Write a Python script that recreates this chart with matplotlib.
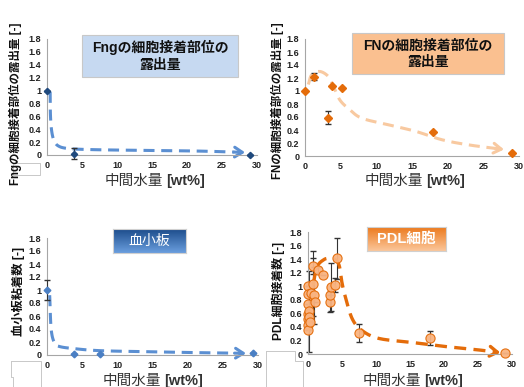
import numpy as np
import matplotlib
matplotlib.use("Agg")
import matplotlib.pyplot as plt
from matplotlib.patches import Rectangle
from matplotlib.lines import Line2D

plt.rcParams['font.family'] = ['Liberation Sans', 'Noto Sans CJK JP', 'DejaVu Sans']

W, H = 524, 387

# ---------------- data ----------------
xticks = [0, 5, 10, 15, 20, 25, 30]
yticks = [0, 0.2, 0.4, 0.6, 0.8, 1, 1.2, 1.4, 1.6, 1.8]
ytick_labels = ['0', '0.2', '0.4', '0.6', '0.8', '1', '1.2', '1.4', '1.6', '1.8']

fng_x = [0, 3.8, 29.0]
fng_y = [1.0, 0.02, 0.0]
fng_err = [0.0, 0.085, 0.0]
fng_guide_x = [0.45, 0.5, 0.7, 1.1, 1.8, 3.0, 4.5, 8, 15, 22, 28.3]
fng_guide_y = [0.98, 0.6, 0.35, 0.2, 0.13, 0.1, 0.09, 0.08, 0.07, 0.06, 0.04]

fn_x = [0, 1.27, 3.2, 3.75, 5.25, 17.95, 29.0]
fn_y = [1.0, 1.22, 0.59, 1.08, 1.04, 0.375, 0.05]
fn_err = [0, 0.05, 0.1, 0, 0, 0, 0]
fn_guide_x = [0.47, 0.94, 2.1, 3.3, 4.0, 4.9, 6.3, 8.0, 11.7, 15.5, 19.2, 23.0, 27.9]
fn_guide_y = [1.10, 1.25, 1.30, 1.22, 1.07, 0.86, 0.71, 0.58, 0.48, 0.38, 0.25, 0.17, 0.10]

plt_x = [0, 3.8, 7.5, 29.3]
plt_y = [1.0, 0.015, 0.01, 0.03]
plt_err = [0.16, 0, 0, 0]
plt_guide_x = [0.38, 0.6, 1.1, 1.8, 3.7, 7.5, 14.6, 21.7, 28.3]
plt_guide_y = [0.92, 0.39, 0.18, 0.13, 0.1, 0.067, 0.05, 0.036, 0.026]

pdl_x = [0, 0, 0, 0, 0, 0, 0, 0.1, 0.2, 0.3, 0.5, 0.7, 0.8, 0.9, 1.0, 1.4, 2.2,
         3.2, 3.3, 3.4, 3.9, 4.3, 7.5, 17.9, 29.0]
pdl_y = [1.0, 0.88, 0.74, 0.59, 0.51, 0.43, 0.35, 0.63, 0.55, 0.47, 0.90, 1.30, 1.04,
         0.87, 0.77, 1.24, 1.16, 0.77, 0.87, 0.99, 1.02, 1.41, 0.31, 0.24, 0.01]
pdl_err = [0, 0, 0, 0, 0, 0, 0, 0.6, 0, 0, 0, 0.12, 0.48, 0.42, 0, 0.05, 0,
           0.15, 0, 0.36, 0.1, 0.3, 0.13, 0.1, 0]
pdl_guide_x = [0.4, 0.6, 0.9, 1.4, 2.3, 3.0, 4.0, 4.6, 5.0, 5.5, 6.5, 7.9, 10.4, 15.3, 20.2, 25.1, 28.3]
pdl_guide_y = [0.45, 0.8, 1.1, 1.3, 1.39, 1.41, 1.39, 1.3, 1.05, 0.84, 0.52, 0.35, 0.23, 0.17, 0.11, 0.06, 0.02]

xlabel_jp = '中間水量'
xlabel_unit = '[wt%]'
ylabels = ['Fngの細胞接着部位の露出量 [-]', 'FNの細胞接着部位の露出量 [-]',
           '血小板粘着数 [-]', 'PDL細胞接着数 [-]']
titles = ['Fngの細胞接着部位の\n露出量', 'FNの細胞接着部位の\n露出量', '血小板', 'PDL細胞']


def smooth(xs, ys, n=12):
    P = np.column_stack([xs, ys]).astype(float)
    P = np.vstack([P[0] - (P[1] - P[0]), P, P[-1] + (P[-1] - P[-2])])
    out = []
    for i in range(1, len(P) - 2):
        p0, p1, p2, p3 = P[i - 1], P[i], P[i + 1], P[i + 2]
        for t in np.linspace(0, 1, n, endpoint=False):
            t2, t3 = t * t, t * t * t
            out.append(0.5 * ((2 * p1) + (-p0 + p2) * t + (2 * p0 - 5 * p1 + 4 * p2 - p3) * t2
                              + (-p0 + 3 * p1 - 3 * p2 + p3) * t3))
    out.append(P[-2])
    out = np.array(out)
    return out[:, 0], out[:, 1]


fig = plt.figure(figsize=(W / 100, H / 100), dpi=100)


def ax_px(l, r, t, b):
    return fig.add_axes([l / W, 1 - b / H, (r - l) / W, (b - t) / H])


def style_axes(ax):
    ax.set_xlim(0, 30)
    ax.set_ylim(0, 1.8)
    ax.set_xticks(xticks)
    ax.set_yticks(yticks)
    ax.set_yticklabels(ytick_labels)
    for s in ['top', 'right']:
        ax.spines[s].set_visible(False)
    for s in ['left', 'bottom']:
        ax.spines[s].set_color('#a6a6a6')
        ax.spines[s].set_linewidth(0.8)
    ax.tick_params(length=0, labelsize=6.5, colors='#222222', pad=4)
    for lab in ax.get_xticklabels() + ax.get_yticklabels():
        lab.set_fontweight('bold')
    ax.patch.set_alpha(0)


def guide(ax, gx, gy, color, lw=2.2):
    sx, sy = smooth(gx, gy)
    ax.plot(sx[:-3], sy[:-3], color=color, lw=lw, dashes=(3.6, 2.2), solid_capstyle='butt',
            dash_capstyle='butt', clip_on=False, zorder=2)
    ax.annotate('', xy=(sx[-1], sy[-1]), xytext=(sx[-4], sy[-4]),
                arrowprops=dict(arrowstyle='->,head_length=0.55,head_width=0.35', lw=lw,
                                color=color, shrinkA=0, shrinkB=0), zorder=2,
                annotation_clip=False)


def ftext(x, y, s, **kw):
    return fig.text(x / W, 1 - y / H, s, **kw)


# ---------------- panel 1: Fng ----------------
ax1 = ax_px(47, 257, 39, 155)
style_axes(ax1)
guide(ax1, fng_guide_x, fng_guide_y, '#5b8fd2')
ax1.errorbar(fng_x, fng_y, yerr=fng_err, fmt='D', ms=3.2, color='#1f497d',
             ecolor='#333333', elinewidth=0.8, capsize=2, clip_on=False, zorder=3)

# ---------------- panel 2: FN ----------------
ax2 = ax_px(305, 519, 39, 156)
style_axes(ax2)
guide(ax2, fn_guide_x, fn_guide_y, '#f8c9a0')
ax2.errorbar(fn_x, fn_y, yerr=fn_err, fmt='D', ms=3.8, color='#e46c0a',
             ecolor='#333333', elinewidth=0.8, capsize=2, clip_on=False, zorder=3)

# ---------------- panel 3: platelets ----------------
ax3 = ax_px(47, 258, 238, 355)
style_axes(ax3)
guide(ax3, plt_guide_x, plt_guide_y, '#5b8fd2')
ax3.errorbar(plt_x, plt_y, yerr=plt_err, fmt='D', ms=3.4, color='#4a7fc4',
             ecolor='#333333', elinewidth=0.8, capsize=2, clip_on=False, zorder=3)

# ---------------- panel 4: PDL ----------------
ax4 = ax_px(308, 512, 232, 354)
style_axes(ax4)
ax4.errorbar(pdl_x, pdl_y, yerr=pdl_err, fmt='none', ecolor='#333333',
             elinewidth=0.8, capsize=2, clip_on=False, zorder=2)
guide(ax4, pdl_guide_x, pdl_guide_y, '#e46c0a', lw=2.4)
ax4.plot(pdl_x, pdl_y, 'o', ms=6.6, mfc='#f9b482', mec='#e46c0a', mew=0.8,
         clip_on=False, zorder=4, alpha=0.95)

# ---------------- axis labels ----------------
for (cx, cy) in [(152, 181), (412, 181), (150, 381), (410, 381)]:
    ftext(cx + 11, cy, xlabel_jp, ha='right', va='center', fontsize=10.5, color='#333333')
    ftext(cx + 14, cy, xlabel_unit, ha='left', va='center', fontsize=10.5,
          fontweight='bold', color='#333333')

ylab_pos = [(15, 104), (277, 101), (18, 291), (278, 291)]
ylab_size = [8.3, 8.3, 8.8, 8.6]
for (cx, cy), s, fs in zip(ylab_pos, ylabels, ylab_size):
    ftext(cx, cy, s, ha='center', va='center', rotation=90, fontsize=fs,
          fontweight='bold', color='#111111')

# ---------------- title boxes ----------------
def box(l, r, t, b, fc, ec='#c8c8c8'):
    fig.patches.append(Rectangle((l / W, 1 - b / H), (r - l) / W, (b - t) / H,
                                 transform=fig.transFigure, facecolor=fc, edgecolor=ec,
                                 lw=0.8, zorder=5))


def grad_box(l, r, t, b, top, bottom):
    a = fig.add_axes([l / W, 1 - b / H, (r - l) / W, (b - t) / H], zorder=5)
    c1 = np.array(matplotlib.colors.to_rgb(top))
    c2 = np.array(matplotlib.colors.to_rgb(bottom))
    t_ = np.linspace(0, 1, 50)[:, None, None]
    img = c1 * (1 - t_) + c2 * t_
    img = np.repeat(img, 2, axis=1)
    a.imshow(img, aspect='auto', extent=[0, 1, 0, 1])
    a.set_xticks([]); a.set_yticks([])
    for s in a.spines.values():
        s.set_color('#d0d0d0'); s.set_linewidth(0.8)
    return a


box(82, 238, 35, 77, '#c6d9f1')
ftext(160, 56, titles[0], ha='center', va='center', fontsize=10, fontweight='bold',
      color='#111111', linespacing=1.25, zorder=6)

box(352, 504, 33, 74, '#fac090')
ftext(428, 54, titles[1], ha='center', va='center', fontsize=10, fontweight='bold',
      color='#111111', linespacing=1.25, zorder=6)

a3 = grad_box(113, 186, 229, 253, '#1d4d8c', '#6a9ede')
a3.text(0.5, 0.5, titles[2], transform=a3.transAxes, ha='center', va='center',
        fontsize=10, color='white')

a4 = grad_box(367, 446, 227, 251, '#ec7a1e', '#fbc69a')
a4.text(0.5, 0.5, titles[3], transform=a4.transAxes, ha='center', va='center',
        fontsize=10.5, fontweight='bold', color='white')

# ---------------- leftover outline artifacts ----------------
gray = '#c8c8c8'
segs = [
    [(13, 163), (40, 163), (40, 175), (13, 175), (13, 163)],
    [(11, 361), (41, 361), (41, 387)],
    [(11, 361), (11, 377), (13, 377), (13, 387)],
    [(266, 351), (295, 351), (295, 361), (303, 361), (303, 387)],
    [(266, 351), (266, 387)],
]
for seg in segs:
    xs = [p[0] / W for p in seg]
    ys = [1 - p[1] / H for p in seg]
    fig.add_artist(Line2D(xs, ys, color=gray, lw=0.7, transform=fig.transFigure))

fig.savefig('out.png', dpi=100)
